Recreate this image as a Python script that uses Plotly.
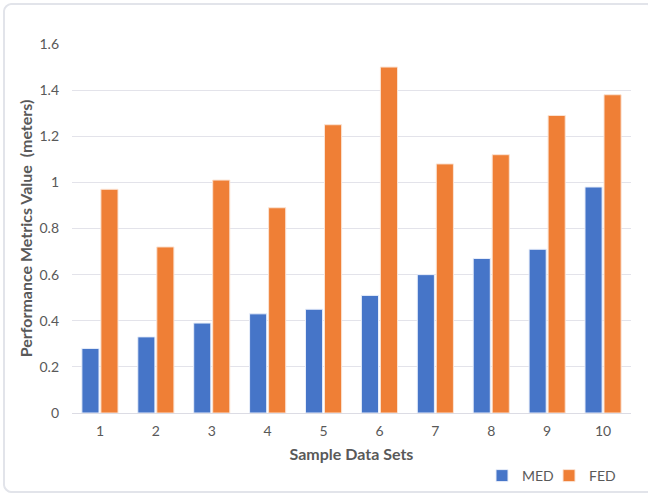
import plotly.graph_objects as go

categories = ["1", "2", "3", "4", "5", "6", "7", "8", "9", "10"]
med_values = [0.28, 0.33, 0.39, 0.43, 0.45, 0.51, 0.60, 0.67, 0.71, 0.98]
fed_values = [0.97, 0.72, 1.01, 0.89, 1.25, 1.50, 1.08, 1.12, 1.29, 1.38]
y_ticks = [0, 0.2, 0.4, 0.6, 0.8, 1, 1.2, 1.4, 1.6]
y_tick_labels = ["0", "0.2", "0.4", "0.6", "0.8", "1", "1.2", "1.4", "1.6"]

FONT = "Lato, 'Open Sans', sans-serif"
TXT = "#595959"

fig = go.Figure()
fig.add_trace(go.Bar(
    x=categories, y=med_values, name="MED", legend="legend",
    marker=dict(color="#4675c8", line=dict(color="#e8eefa", width=1)),
))
fig.add_trace(go.Bar(
    x=categories, y=fed_values, name="FED", legend="legend2",
    marker=dict(color="#ef7f36", line=dict(color="#fbe3d3", width=1)),
))

W, H = 648, 495
ml, mr, mt, mb = 72, 17, 44, 82
pw, ph = W - ml - mr, H - mt - mb

def px2paper_x(px):
    return (px - ml) / pw

def px2paper_y(py):
    return (H - mb - py) / ph

def rounded_rect(x0, y0, x1, y1, r):
    X = px2paper_x
    Y = px2paper_y
    k = 0.45 * r
    p = []
    p.append(f"M{X(x0 + r)},{Y(y0)}")
    p.append(f"L{X(x1 - r)},{Y(y0)}")
    p.append(f"C{X(x1 - r + k)},{Y(y0)} {X(x1)},{Y(y0 + r - k)} {X(x1)},{Y(y0 + r)}")
    p.append(f"L{X(x1)},{Y(y1 - r)}")
    p.append(f"C{X(x1)},{Y(y1 - r + k)} {X(x1 - r + k)},{Y(y1)} {X(x1 - r)},{Y(y1)}")
    p.append(f"L{X(x0 + r)},{Y(y1)}")
    p.append(f"C{X(x0 + r - k)},{Y(y1)} {X(x0)},{Y(y1 - r + k)} {X(x0)},{Y(y1 - r)}")
    p.append(f"L{X(x0)},{Y(y0 + r)}")
    p.append(f"C{X(x0)},{Y(y0 + r - k)} {X(x0 + r - k)},{Y(y0)} {X(x0 + r)},{Y(y0)}")
    p.append("Z")
    return " ".join(p)

legend_common = dict(
    orientation="h", xanchor="left", yanchor="middle",
    font=dict(family=FONT, size=14, color=TXT),
    itemwidth=30, bgcolor="rgba(0,0,0,0)",
)

fig.update_layout(
    width=W, height=H,
    margin=dict(l=ml, r=mr, t=mt, b=mb, autoexpand=False),
    paper_bgcolor="white", plot_bgcolor="white",
    font=dict(family=FONT, size=14, color=TXT),
    barmode="group", bargap=0.32, bargroupgap=0.1,
    showlegend=True,
    legend=dict(x=px2paper_x(482), y=px2paper_y(476), **legend_common),
    legend2=dict(x=px2paper_x(549), y=px2paper_y(476), **legend_common),
    xaxis=dict(
        type="category", showgrid=False, ticks="", showline=False,
        automargin=False, ticklabelstandoff=8,
        tickfont=dict(family=FONT, size=14, color=TXT),
        title=dict(text="<b>Sample Data Sets</b>", standoff=10,
                   font=dict(family=FONT, size=16, color=TXT)),
    ),
    yaxis=dict(
        range=[0, 1.6], tickvals=y_ticks, ticktext=y_tick_labels,
        showgrid=True, gridcolor="#e3e3ea", gridwidth=1,
        zeroline=True, zerolinecolor="#dcdce4", zerolinewidth=1,
        showline=False, ticks="", ticklabelstandoff=12, automargin=False,
        tickfont=dict(family=FONT, size=14, color=TXT),
        title=dict(text="<b>Performance Metrics Value  (meters)</b>", standoff=2,
                   font=dict(family=FONT, size=16, color=TXT)),
    ),
    shapes=[dict(
        type="path", xref="paper", yref="paper",
        path=rounded_rect(4, 4, 654, 492, 7),
        line=dict(color="#e2e4ea", width=2), fillcolor="rgba(0,0,0,0)",
        layer="below",
    )],
)

fig.write_html("out.html")
